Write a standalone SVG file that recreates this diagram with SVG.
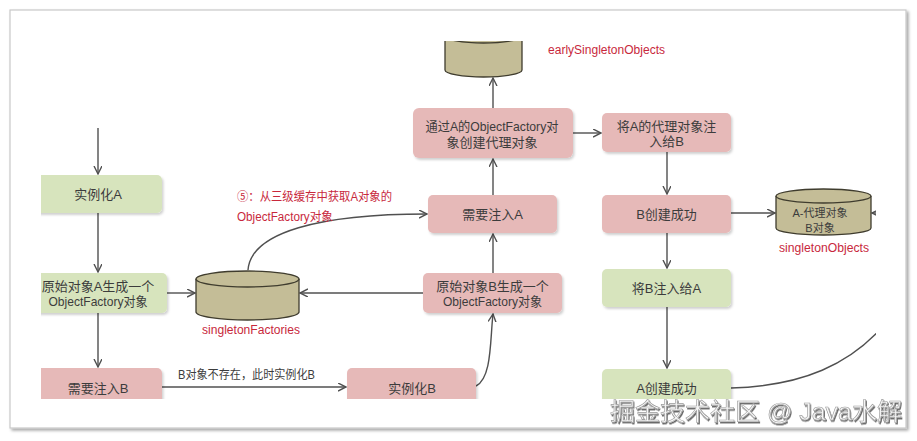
<svg xmlns="http://www.w3.org/2000/svg" width="917" height="441" viewBox="0 0 917 441">
<style>
text{font-family:"Liberation Sans","Noto Sans CJK SC",sans-serif;}
.t{font-size:13px;fill:#3c3c3c;text-anchor:middle;}
.r{font-size:12px;fill:#c8283c;}
.g{fill:#d7e4bd;}
.p{fill:#e6b9b8;}
.cyl{fill:#c4bd97;stroke:#3f3c2e;stroke-width:1.3;}
.c{fill:none;stroke:#505050;stroke-width:1.4;}
.ct{font-size:11px;fill:#3c3c3c;text-anchor:middle;}
</style>
<defs>
<marker id="ah" markerWidth="10" markerHeight="10" refX="8" refY="4" orient="auto" markerUnits="userSpaceOnUse">
<path d="M0,0 L8,4 L0,8" fill="none" stroke="#505050" stroke-width="1.4"/>
</marker>
<filter id="sh" x="-10%" y="-10%" width="130%" height="140%">
<feDropShadow dx="1.5" dy="2" stdDeviation="1.2" flood-color="#000" flood-opacity="0.18"/>
</filter>
<filter id="fs" x="-5%" y="-5%" width="110%" height="110%">
<feDropShadow dx="2" dy="2" stdDeviation="1.5" flood-color="#000" flood-opacity="0.35"/>
</filter>
<filter id="ws" x="-5%" y="-20%" width="110%" height="150%">
<feDropShadow dx="1" dy="1.5" stdDeviation="0.6" flood-color="#000" flood-opacity="0.6"/>
</filter>
<clipPath id="clip"><rect x="41" y="41" width="835" height="358"/></clipPath>
</defs>
<rect width="917" height="441" fill="#ffffff"/>
<rect x="10" y="10" width="896" height="418" fill="#ffffff" stroke="#c9c9c9" stroke-width="1.2" filter="url(#fs)"/>
<g clip-path="url(#clip)">
<g id="connectors">
<path class="c" d="M98,128 L98,174" marker-end="url(#ah)"/>
<path class="c" d="M98,213 L98,272" marker-end="url(#ah)"/>
<path class="c" d="M98,313 L98,367" marker-end="url(#ah)"/>
<path class="c" d="M167,293 L195,293" marker-end="url(#ah)"/>
<path class="c" d="M423,293 L300,293" marker-end="url(#ah)"/>
<path class="c" d="M162,387 L346,387" marker-end="url(#ah)"/>
<text x="178" y="379" style="font-size:12px;fill:#3c3c3c" textLength="137" lengthAdjust="spacingAndGlyphs">B对象不存在，此时实例化B</text>
<path class="c" d="M476,386 C492,378 490,340 493,314" marker-end="url(#ah)"/>
<path class="c" d="M493,273 L493,234" marker-end="url(#ah)"/>
<path class="c" d="M493,195 L493,159" marker-end="url(#ah)"/>
<path class="c" d="M493,108 L493,78" marker-end="url(#ah)"/>
<path class="c" d="M573,133 L601,133" marker-end="url(#ah)"/>
<path class="c" d="M667,152 L667,194" marker-end="url(#ah)"/>
<path class="c" d="M731,213 L775,213" marker-end="url(#ah)"/>
<path class="c" d="M667,233 L667,268" marker-end="url(#ah)"/>
<path class="c" d="M667,307 L667,368" marker-end="url(#ah)"/>
<path class="c" d="M248,270 C251,232 320,214 427,214" marker-end="url(#ah)"/>
<text x="237" y="201" class="r" textLength="155" lengthAdjust="spacingAndGlyphs">⑤：从三级缓存中获取A对象的</text>
<text x="237" y="221" class="r" textLength="96" lengthAdjust="spacingAndGlyphs">ObjectFactory对象</text>
<path class="c" d="M731,388 C800,386 852,366 890,318"/>
<path class="c" d="M890,213 L872,213" marker-end="url(#ah)"/>
</g>
<g id="instA">
<rect x="34" y="175" width="128" height="38" rx="5" class="g" filter="url(#sh)"/>
<text x="98" y="198.5" class="t">实例化A</text>
</g>
<g id="factoryA">
<rect x="29" y="273" width="138" height="40" rx="5" class="g" filter="url(#sh)"/>
<text x="98" y="290.5" class="t">原始对象A生成一个</text>
<text x="98" y="305.5" class="t" textLength="99" lengthAdjust="spacingAndGlyphs">ObjectFactory对象</text>
</g>
<g id="injectB">
<rect x="34" y="368" width="128" height="40" rx="5" class="p" filter="url(#sh)"/>
<text x="98" y="392.5" class="t">需要注入B</text>
</g>
<g id="singletonFactories">
<path class="cyl" d="M196,279 L196,312 A51.5,8 0 0 0 299,312 L299,279"/>
<ellipse class="cyl" cx="247.5" cy="279" rx="51.5" ry="8"/>
<text x="202" y="334" class="r" textLength="98" lengthAdjust="spacingAndGlyphs">singletonFactories</text>
</g>
<g id="instB">
<rect x="347" y="368" width="129" height="40" rx="5" class="p" filter="url(#sh)"/>
<text x="412" y="392.5" class="t">实例化B</text>
</g>
<g id="factoryB">
<rect x="423" y="273" width="139" height="40" rx="5" class="p" filter="url(#sh)"/>
<text x="492.5" y="290.5" class="t">原始对象B生成一个</text>
<text x="492.5" y="305.5" class="t" textLength="99" lengthAdjust="spacingAndGlyphs">ObjectFactory对象</text>
</g>
<g id="injectA">
<rect x="428" y="195" width="129" height="38" rx="5" class="p" filter="url(#sh)"/>
<text x="492.5" y="218.5" class="t">需要注入A</text>
</g>
<g id="proxyA">
<rect x="413" y="108" width="160" height="50" rx="6" class="p" filter="url(#sh)"/>
<text x="492" y="130.5" class="t" textLength="133" lengthAdjust="spacingAndGlyphs">通过A的ObjectFactory对</text>
<text x="492" y="146.5" class="t">象创建代理对象</text>
</g>
<g id="earlySingletonObjects">
<path class="cyl" d="M445,36 L445,70 A38.5,7 0 0 0 522,70 L522,36"/>
<ellipse class="cyl" cx="483.5" cy="36" rx="38.5" ry="7"/>
<text x="548" y="54" class="r" textLength="117" lengthAdjust="spacingAndGlyphs">earlySingletonObjects</text>
</g>
<g id="injectProxyB">
<rect x="602" y="113" width="129" height="39" rx="5" class="p" filter="url(#sh)"/>
<text x="666.5" y="130.5" class="t">将A的代理对象注</text>
<text x="666.5" y="145.5" class="t">入给B</text>
</g>
<g id="createdB">
<rect x="602" y="195" width="129" height="38" rx="5" class="p" filter="url(#sh)"/>
<text x="666.5" y="218.5" class="t">B创建成功</text>
</g>
<g id="injectBtoA">
<rect x="602" y="269" width="129" height="38" rx="5" class="g" filter="url(#sh)"/>
<text x="666.5" y="292.5" class="t">将B注入给A</text>
</g>
<g id="createdA">
<rect x="602" y="369" width="129" height="40" rx="5" class="g" filter="url(#sh)"/>
<text x="666.5" y="392.5" class="t">A创建成功</text>
</g>
<g id="singletonObjects">
<path class="cyl" d="M776,196 L776,228 A47.5,7 0 0 0 871,228 L871,196"/>
<ellipse class="cyl" cx="823.5" cy="196" rx="47.5" ry="7"/>
<text x="820" y="217" class="ct">A-代理对象</text>
<text x="820" y="232" class="ct">B对象</text>
<text x="779" y="252" class="r" textLength="90" lengthAdjust="spacingAndGlyphs">singletonObjects</text>
</g>
</g>
<text x="610" y="420" style="font-size:24px;fill:#f6f6f6;stroke:#9a9a9a;stroke-width:0.6" filter="url(#ws)" textLength="292" lengthAdjust="spacingAndGlyphs">掘金技术社区 @ Java水解</text>
</svg>
